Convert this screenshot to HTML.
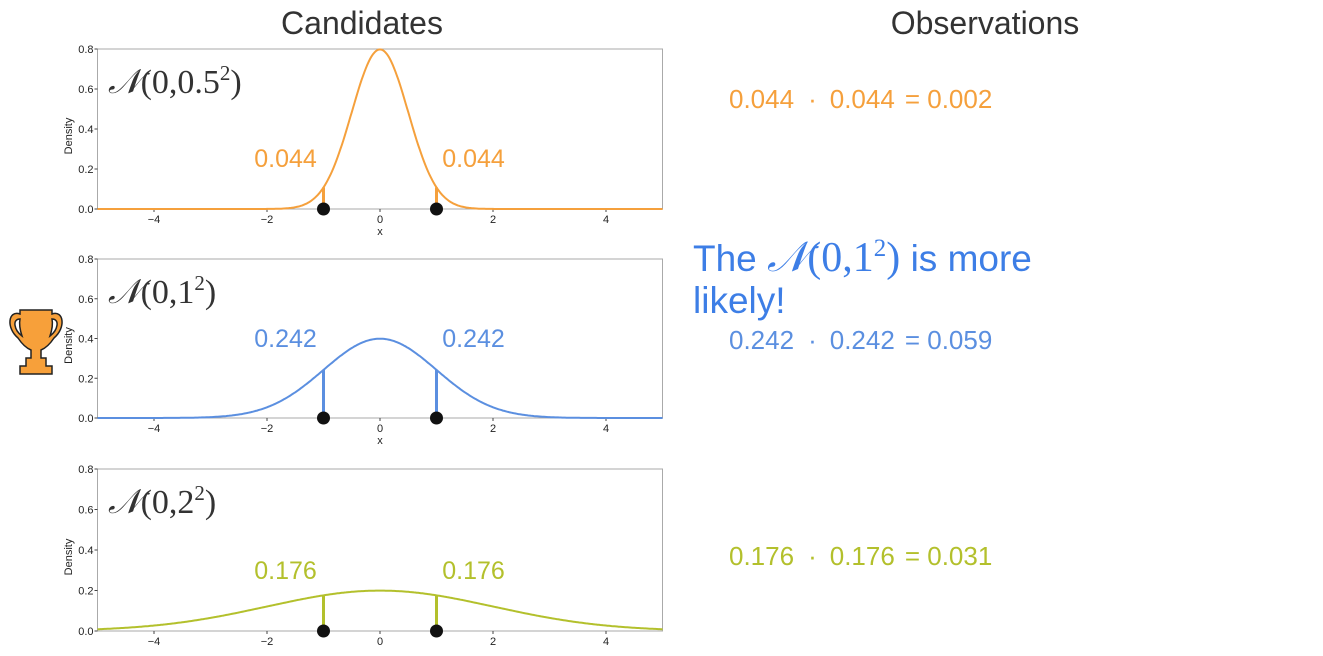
<!DOCTYPE html>
<html><head><meta charset="utf-8"><style>
body{margin:0;background:#fff;width:1323px;height:651px;overflow:hidden;font-family:"Liberation Sans",sans-serif}
</style></head><body>
<svg width="1323" height="651" xmlns="http://www.w3.org/2000/svg" font-family="Liberation Sans, sans-serif">
<text x="362" y="34" font-size="32" fill="#333" text-anchor="middle">Candidates</text>
<text x="985" y="34" font-size="32" fill="#333" text-anchor="middle">Observations</text>
<g id="panels"></g>
<g transform="translate(8,310)">
<path d="M12 0 H44 V4 C56 0 58 18 46 28 C42 34 38 38 33 40 V48 H38 V56 H44 V64 H12 V56 H18 V48 H23 V40 C18 38 14 34 10 28 C-2 18 0 0 12 4 Z M12 9 C4 9 6 20 14 26 C12 20 11 14 12 9 Z M44 9 C52 9 50 20 42 26 C44 20 45 14 44 9 Z" fill="#f7a03a" stroke="#222" stroke-width="1.5" fill-rule="evenodd"/>
</g>
<text x="693" y="271" font-size="37" fill="#3d7ee6">The <tspan font-family="Liberation Serif, serif" font-style="italic" font-size="42">𝒩</tspan><tspan font-family="Liberation Serif, serif" font-size="42">(0,1</tspan><tspan font-family="Liberation Serif, serif" font-size="25" dy="-15">2</tspan><tspan font-family="Liberation Serif, serif" font-size="42" dy="15">)</tspan> is more</text>
<text x="693" y="313" font-size="37" fill="#3d7ee6">likely!</text>
</svg>
<script>
const xTicks=[-4,-2,0,2,4];
const yTicks=[0.0,0.2,0.4,0.6,0.8];
const sigmas=[0.5,1,2];
const obsX=[-1,1];
const labelVals=["0.044","0.242","0.176"];
const products=["0.002","0.059","0.031"];
const titles=["0.5","1","2"];
const colors=["#f5a03c","#5b8fe0","#b3c02c"];
const tops=[49,259,469],bots=[209,418,631];
const obsY=[100,341,557];
const svg=document.querySelector('svg'),g=document.getElementById('panels');
const NS='http://www.w3.org/2000/svg';
function el(t,a,p){const e=document.createElementNS(NS,t);for(const k in a)e.setAttribute(k,a[k]);(p||g).appendChild(e);return e;}
const X0=97.5,X1=662.5;
const sx=v=>X0+(v+5)/10*(X1-X0);
const pdf=(x,s)=>Math.exp(-x*x/(2*s*s))/(s*Math.sqrt(2*Math.PI));
sigmas.forEach((s,i)=>{
 const T=tops[i],B=bots[i],sy=v=>B-v/0.8*(B-T),c=colors[i];
 const pg=el('g',{});
 
 
 const fr=el('rect',{x:X0,y:T,width:X1-X0,height:B-T,fill:'none',stroke:'#aaa','stroke-width':1},pg);
 
 
 yTicks.forEach(v=>{const t=el('text',{x:X0-4,y:sy(v)+4,'font-size':11,'text-anchor':'end',fill:'#222'},pg);t.textContent=v.toFixed(1);
  
  
  el('line',{x1:X0-3,x2:X0,y1:sy(v),y2:sy(v),stroke:'#444'},pg);});
 xTicks.forEach(v=>{const t=el('text',{x:sx(v),y:B+14,'font-size':11,'text-anchor':'middle',fill:'#222'},pg);t.textContent=v<0?'−'+(-v):v;
  
  
  el('line',{x1:sx(v),x2:sx(v),y1:B,y2:B+3,stroke:'#444'},pg);});
 if(i<2){const xl=el('text',{x:sx(0),y:B+26,'font-size':11,'text-anchor':'middle',fill:'#222'},pg);xl.textContent='x';
  
  }
 const yl=el('text',{x:0,y:0,'font-size':11,'text-anchor':'middle',fill:'#222',transform:`translate(72,${(T+B)/2+7}) rotate(-90)`},pg);yl.textContent='Density';
 
 
 let d='';for(let k=0;k<=400;k++){const x=-5+k*10/400;d+=(k?'L':'M')+sx(x).toFixed(1)+' '+sy(pdf(x,s)).toFixed(1);}
 const cv=el('path',{d:d,fill:'none',stroke:c,'stroke-width':2},pg);
 
 
 obsX.forEach(o=>{
  const st=el('line',{x1:sx(o),x2:sx(o),y1:B,y2:sy(pdf(o,s)),stroke:c,'stroke-width':3},pg);
  
  
  const dt=el('circle',{cx:sx(o),cy:B,r:6.5,fill:'#111'},pg);
  
  
  const lb=el('text',{x:sx(o)+(o<0?-38:37),y:0,'font-size':25,fill:c,'text-anchor':'middle'},pg);
  lb.setAttribute('y', i==0?167:(i==1?347:579));
  lb.textContent=labelVals[i];
  
  
 });
 const tt=el('text',{x:108,y:T+44,'font-size':34,fill:'#333','font-family':'Liberation Serif, serif'},pg);
 tt.innerHTML='<tspan font-style="italic">𝒩</tspan>(0,'+titles[i]+'<tspan font-size="21" dy="-13">2</tspan><tspan dy="13">)</tspan>';
 
 
 const pr=el('text',{x:729,y:obsY[i]+8,'font-size':26,fill:c},svg);
 pr.innerHTML=labelVals[i]+'<tspan dx="14">·</tspan><tspan dx="13">'+labelVals[i]+'</tspan><tspan dx="10">= '+products[i]+'</tspan>';
 
 
});
</script>
</body></html>
